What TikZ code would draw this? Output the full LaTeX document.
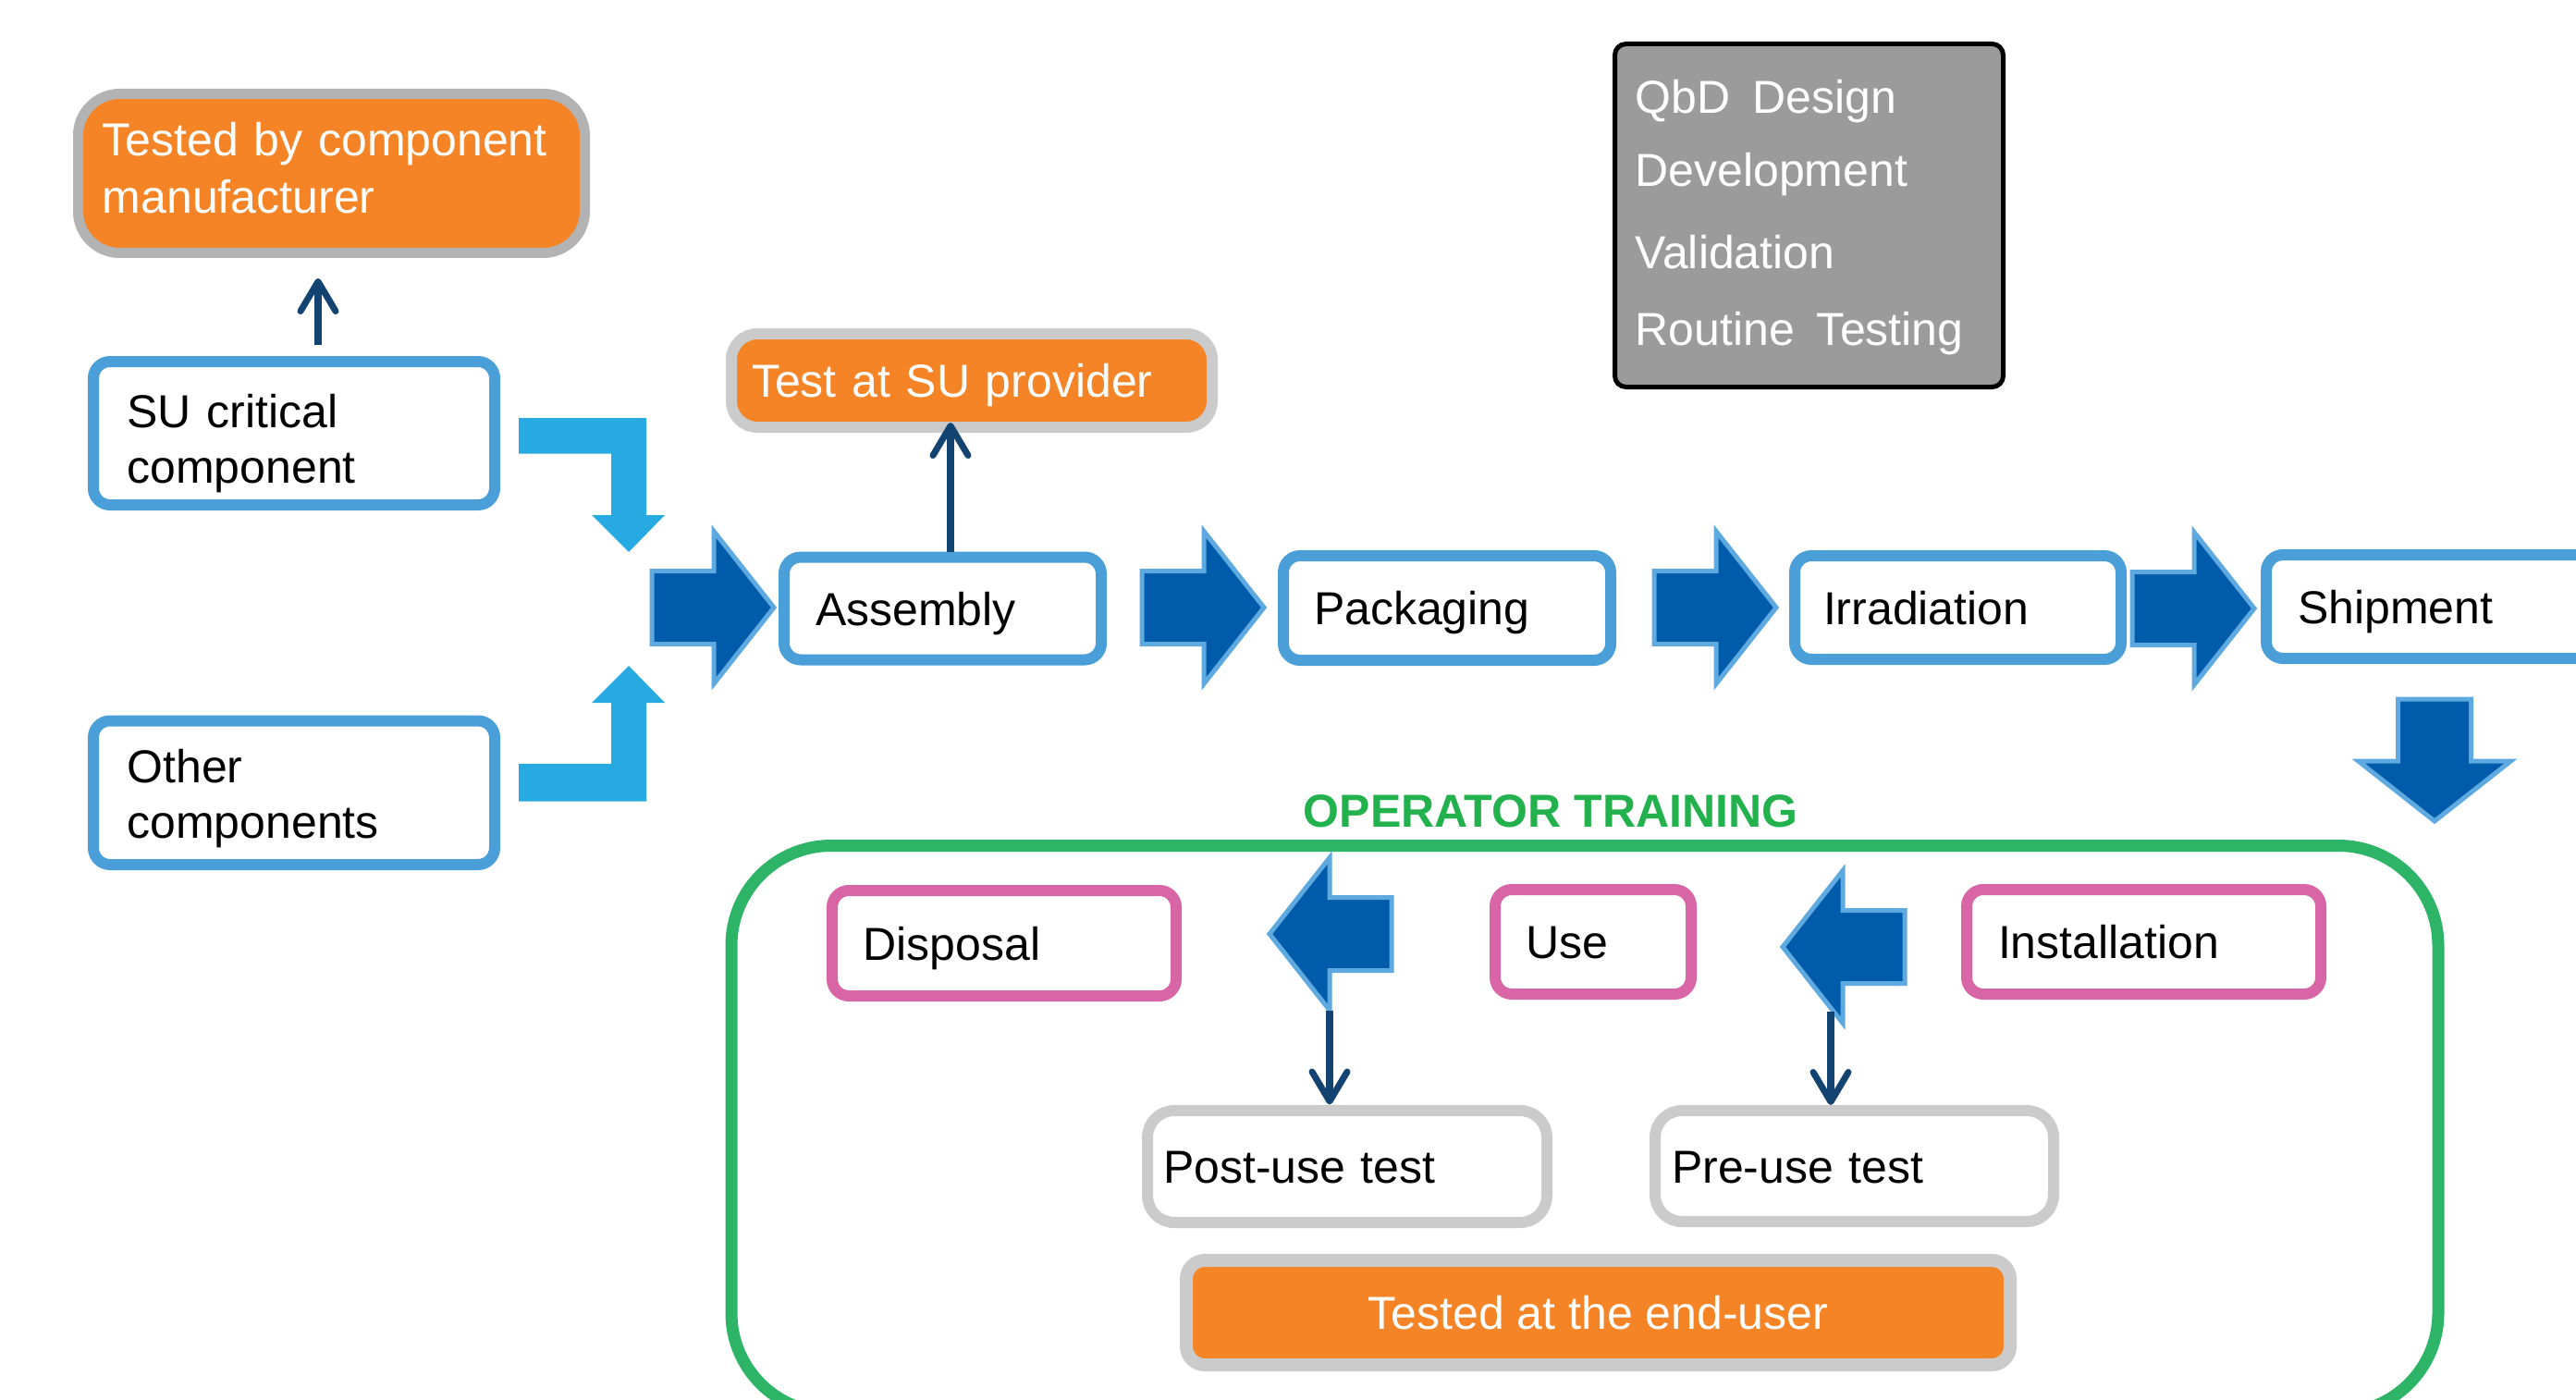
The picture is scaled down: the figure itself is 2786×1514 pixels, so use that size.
\documentclass[tikz,border=0pt]{standalone}
\usepackage{fontspec}
\setmainfont{Liberation Sans}
\usetikzlibrary{arrows.meta}
\definecolor{orng}{HTML}{F58426}
\definecolor{grayb}{HTML}{CBCBCB}
\definecolor{graybd}{HTML}{B3B3B3}
\definecolor{bluebox}{HTML}{4A9FD8}
\definecolor{darkarr}{HTML}{005BAA}
\definecolor{darkarrb}{HTML}{5DA9E0}
\definecolor{elbow}{HTML}{27AAE1}
\definecolor{navy}{HTML}{134471}
\definecolor{grn}{HTML}{2EB467}
\definecolor{grntxt}{HTML}{22B14C}
\definecolor{pnk}{HTML}{D866A6}
\definecolor{qbdgray}{HTML}{9B9B9B}
\newcommand\dfont{\fontsize{50}{60}\selectfont}
\tikzset{
  base/.style={font=\dfont, align=left, inner ysep=0pt, outer sep=0pt, text height=36pt, text depth=0pt},
  sz/.style n args={4}{minimum width=#1pt, minimum height=#2pt, inner xsep=#3pt, text width=#4pt},
  bluebx/.style={base, draw=bluebox, line width=12pt, fill=white, rounded corners=18pt},
  pinkbx/.style={base, draw=pnk, line width=12pt, fill=white, rounded corners=18pt},
  graybx/.style={base, draw=grayb, line width=12pt, fill=white, rounded corners=29pt},
  orangebx/.style={base, draw=grayb, line width=12pt, fill=orng, text=white, rounded corners=28pt},
  thinarr/.style={draw=navy, line width=7.5pt, -{Straight Barb[length=32pt,width=38pt,line width=7pt,round]}},
  elbowarr/.style={fill=elbow},
  blk/.pic={
    \filldraw[fill=darkarr, draw=darkarrb, line width=5pt, line join=miter]
      (0,0) -- (-65,-82.5) -- (-65,-39.5) -- (-132,-39.5) -- (-132,39.5) -- (-65,39.5) -- (-65,82.5) -- cycle;
    \coordinate (-base) at (-65,-82.5);
  }
}
\begin{document}
\begin{tikzpicture}[x=1pt,y=-1pt]
\useasboundingbox (0,0) rectangle (2786,1514);
\clip (0,0) rectangle (2786,1514);

% operator training container
\node[draw=grn, line width=13pt, rounded corners=108pt, minimum width=1846pt, minimum height=613.5pt, inner sep=0pt] (trainbox) at (1714,1221.25) {};
\node[base, inner sep=0pt, text=grntxt, font=\dfont\bfseries] (operator) at (1677,876) {OPERATOR TRAINING};

% top-left
\node[orangebx, draw=graybd, line width=11pt, rounded corners=45pt, sz={548}{172}{26.4}{495.2}, text depth=73pt, font=\fontsize{50}{62}\selectfont] (tbcm) at (358.5,187.5) {Tested by component\\manufacturer};
\node[bluebx, sz={434}{155}{36.5}{361}, text depth=49pt] (sucrit) at (318,468.5) {SU critical\\component};
\node[bluebx, sz={434}{155.5}{36.5}{361}, text depth=58pt] (other) at (318,857.25) {Other\\components};

% main flow
\node[orangebx, sz={520}{101}{22}{476}] (testsu) at (1051,411.5) {Test at SU provider};
\node[bluebx, sz={343}{111}{34}{275}] (assembly) at (1019.5,658) {Assembly};
\node[bluebx, sz={354}{113}{33}{288}] (packaging) at (1565,657.5) {Packaging};
\node[bluebx, sz={353}{112}{31}{291}] (irradiation) at (2117.5,657) {Irradiation};
\node[bluebx, sz={379}{112}{34}{311}] (shipment) at (2640.5,656) {Shipment};

% QbD box
\node[base, draw=black, line width=5pt, fill=qbdgray, text=white, rounded corners=12pt, sz={420}{371}{22}{376}, text depth=256pt] (qbd) at (1956.5,233)
  {QbD\hspace{0.15em} Design\\[19pt]Development\\[29pt]Validation\\[23pt]Routine\hspace{0.15em} Testing};

% training boxes
\node[pinkbx, sz={372}{114}{33.6}{304.8}] (disposal) at (1086,1020) {Disposal};
\node[pinkbx, sz={212}{113}{33}{146}] (use) at (1723,1018.5) {Use};
\node[pinkbx, sz={383}{113}{34}{315}] (install) at (2318.5,1018.5) {Installation};
\node[graybx, sz={432}{121}{17}{398}] (postuse) at (1457,1261.5) {Post-use test};
\node[graybx, sz={431}{120}{18}{395}] (preuse) at (2005.5,1261) {Pre-use test};
\node[base, align=center, draw=grayb, line width=14pt, fill=orng, text=white, rounded corners=20pt, minimum width=891pt, minimum height=113pt, inner xsep=0pt] (enduser) at (1728.5,1419.5) {Tested at the end-user};

% light blue elbow arrows
\fill[elbowarr] (561,452) -- (699,452) -- (699,557) -- (719,557) -- (680,597) -- (640,557) -- (661,557) -- (661,490.5) -- (561,490.5) -- cycle;
\fill[elbowarr] (561,866.5) -- (699,866.5) -- (699,760) -- (719,760) -- (680,720) -- (640,760) -- (661,760) -- (661,826) -- (561,826) -- cycle;

% dark block arrows
\pic (ra1) at (837,657) {blk};
\pic (ra2) at (1367,657) {blk};
\pic (ra3) at (1921,657) {blk};
\pic (ra4) at (2438,658) {blk};
\pic[rotate=-90] (da1) at (2633,888) {blk};
\pic[rotate=180] (la1) at (1373,1010) {blk};
\pic[rotate=180] (la2) at (1928,1024) {blk};

% thin navy connectors
\draw[thinarr] ([xshift=26pt,yshift=18pt]sucrit.north) -- ([xshift=-14.5pt,yshift=-27.5pt]tbcm.south);
\draw[thinarr] ([xshift=8.5pt,yshift=6pt]assembly.north) -- ([xshift=-23pt,yshift=5pt]testsu.south);
\draw[thinarr] (la1-base) -- ([xshift=-19pt,yshift=6.5pt]postuse.north);
\draw[thinarr] ([xshift=-13pt,yshift=12.5pt]la2-base) -- ([xshift=-25.5pt,yshift=6pt]preuse.north);
\end{tikzpicture}
\end{document}
